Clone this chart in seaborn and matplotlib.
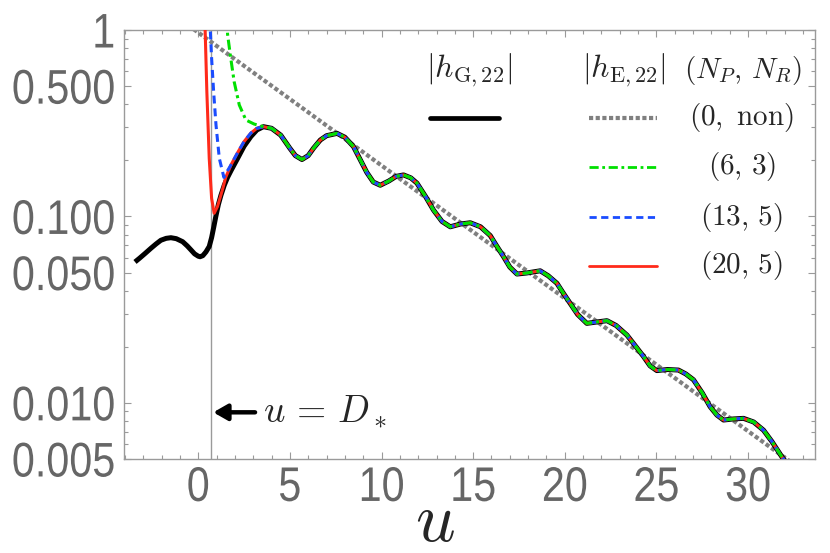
import matplotlib
matplotlib.use("Agg")
import matplotlib.pyplot as plt
import numpy as np
import pandas as pd
import seaborn as sns
from matplotlib.ticker import FixedLocator, FixedFormatter, MultipleLocator, LogLocator, NullFormatter
from matplotlib.patheffects import AbstractPathEffect
from matplotlib.transforms import Affine2D

# ---------------- data ----------------
# |h_G,22| (black), part before all curves coincide
u_g = [-3.45, -3.2, -2.9, -2.58, -2.3, -2.04, -1.75, -1.49, -1.2, -0.85, -0.6, -0.4, -0.2,
       0.0, 0.1, 0.25, 0.42, 0.6, 0.73, 0.85, 0.96, 1.1, 1.24, 1.42, 1.6, 1.8, 2.15, 2.5,
       2.87, 3.2]
h_g = [0.0570, 0.0597, 0.0633, 0.0675, 0.0712, 0.0745, 0.0763, 0.0769, 0.0760, 0.0732, 0.0695,
       0.0662, 0.0630, 0.0612, 0.0608, 0.0616, 0.0645, 0.0690, 0.0770, 0.0880, 0.1000, 0.1160,
       0.1300, 0.1470, 0.1620, 0.1770, 0.205, 0.238, 0.268, 0.291]

# common tail (all curves coincide for u >= 3.56)
u_tail = [3.56, 4.0, 4.5, 5.0, 5.3, 5.66, 6.0, 6.3, 6.66, 7.0, 7.57, 8.0, 8.47, 8.8, 9.2, 9.55,
          9.93, 10.4, 10.8, 11.2, 11.6, 11.93, 12.4, 12.84, 13.3, 13.75, 14.3, 14.84, 15.4,
          15.93, 16.3, 16.66, 17.0, 17.39, 17.9, 18.66, 19.1, 19.57, 19.9, 20.29, 20.7, 21.2,
          21.8, 22.3, 22.8, 23.39, 23.8, 24.3, 24.65, 25.02, 25.6, 26.2, 26.6, 27.02, 27.5,
          27.93, 28.3, 28.66, 29.2, 29.75, 30.3, 30.84, 31.3, 31.84, 32.0]
h_tail = [0.303, 0.297, 0.273, 0.232, 0.212, 0.202, 0.212, 0.233, 0.257, 0.271, 0.279, 0.266,
          0.237, 0.205, 0.172, 0.153, 0.147, 0.155, 0.164, 0.167, 0.161, 0.151, 0.128, 0.108,
          0.094, 0.088, 0.091, 0.0925, 0.088, 0.079, 0.069, 0.0608, 0.0535, 0.0491, 0.0497,
          0.0511, 0.048, 0.0438, 0.039, 0.0342, 0.0298, 0.0267, 0.0272, 0.0276, 0.026, 0.0231,
          0.0205, 0.0177, 0.0158, 0.0149, 0.0151, 0.0150, 0.0143, 0.0133, 0.0113, 0.00953,
          0.0086, 0.00809, 0.0082, 0.00826, 0.0079, 0.00714, 0.0062, 0.00514, 0.0049]

# |h_E,22| early parts
u_e_common = [1.5, 1.8, 2.15, 2.5, 2.87, 3.2]
h_e_common = [0.162, 0.190, 0.220, 0.252, 0.280, 0.297]

u_red = [0.36, 0.47, 0.60, 0.73, 0.87, 1.05, 1.33]
h_red = [1.15, 0.467, 0.205, 0.125, 0.104, 0.113, 0.140]

u_blue = [0.63, 0.73, 0.84, 0.97, 1.15, 1.4, 1.6]
h_blue = [1.15, 0.705, 0.467, 0.309, 0.205, 0.162, 0.176]

u_green = [1.56, 1.6, 1.75, 1.96, 2.24, 2.6, 3.05, 3.3]
h_green = [1.15, 0.95, 0.734, 0.528, 0.396, 0.329, 0.313, 0.308]

# (0, non): gray dotted
u_gray = [-0.25, 2.0, 6.0, 10.0, 14.0, 18.0, 22.0, 26.0, 30.0, 32.3]
h_gray = [1.01, 0.697, 0.362, 0.1876, 0.0974, 0.0505, 0.0262, 0.0136, 0.00705, 0.00484]

D_star = 0.7

x_ticks = [0, 5, 10, 15, 20, 25, 30]
y_ticks = [0.005, 0.01, 0.05, 0.1, 0.5, 1]
y_tick_labels = ["0.005", "0.010", "0.050", "0.100", "0.500", "1"]
legend_labels = [r"$(0,\ \mathrm{non})$", r"$(6,\,3)$", r"$(13,\,5)$", r"$(20,\,5)$"]

# ---------------- style ----------------
sns.set_theme(style="ticks")
plt.rcParams["font.family"] = ["Liberation Sans", "DejaVu Sans"]
plt.rcParams["mathtext.fontset"] = "cm"

FRAME = "#9a9a9a"
TICKLAB = "#666666"
C_GRAY = "#808080"
C_GREEN = "#00e000"
C_BLUE = "#1a4cff"
C_RED = "#ff2a1a"


class Condense(AbstractPathEffect):
    """Horizontally condense text glyphs around a pivot."""
    def __init__(self, sx=0.85, pivot="center"):
        super().__init__()
        self.sx = sx
        self.pivot = pivot

    def draw_path(self, renderer, gc, tpath, affine, rgbFace=None):
        ext = tpath.get_extents()
        if self.pivot == "right":
            p = ext.x1
        else:
            p = 0.5 * (ext.x0 + ext.x1)
        t = Affine2D().translate(-p, 0).scale(self.sx, 1).translate(p, 0) + affine
        renderer.draw_path(gc, tpath, t, rgbFace)


fig = plt.figure(figsize=(8.3, 5.53), dpi=100)
ax = fig.add_axes([124 / 830, 1 - 459 / 553, (815 - 124) / 830, (459 - 30) / 553])

df_g = pd.DataFrame({"u": u_g + u_tail, "h": h_g + h_tail})
df_gray = pd.DataFrame({"u": u_gray, "h": h_gray})
df_red = pd.DataFrame({"u": u_red + u_e_common + u_tail, "h": h_red + h_e_common + h_tail})
df_blue = pd.DataFrame({"u": u_blue + u_e_common[1:] + u_tail, "h": h_blue + h_e_common[1:] + h_tail})
df_green = pd.DataFrame({"u": u_green + u_tail, "h": h_green + h_tail})

ax.axvline(D_star, color=FRAME, lw=1.0, zorder=1)

sns.lineplot(data=df_gray, x="u", y="h", ax=ax, color=C_GRAY, lw=3.0,
             linestyle=(0, (1.0, 0.6)), estimator=None, sort=False, zorder=2)
sns.lineplot(data=df_g, x="u", y="h", ax=ax, color="black", lw=3.6,
             estimator=None, sort=False, zorder=3, solid_capstyle="butt")
sns.lineplot(data=df_red, x="u", y="h", ax=ax, color=C_RED, lw=2.2,
             estimator=None, sort=False, zorder=4)
sns.lineplot(data=df_blue, x="u", y="h", ax=ax, color=C_BLUE, lw=2.2,
             linestyle=(0, (2.6, 1.6)), estimator=None, sort=False, zorder=5)
sns.lineplot(data=df_green, x="u", y="h", ax=ax, color=C_GREEN, lw=2.2,
             linestyle=(0, (3.3, 1.3, 1.0, 1.3)), estimator=None, sort=False, zorder=6)

ax.set_yscale("log")
ax.set_xlim(-4.05, 33.65)
ax.set_ylim(0.005, 1.0)

ax.xaxis.set_major_locator(FixedLocator(x_ticks))
ax.xaxis.set_minor_locator(MultipleLocator(1))
ax.yaxis.set_major_locator(FixedLocator(y_ticks))
ax.yaxis.set_major_formatter(FixedFormatter(y_tick_labels))
ax.yaxis.set_minor_locator(LogLocator(base=10, subs=np.arange(2, 10)))
ax.yaxis.set_minor_formatter(NullFormatter())

for sp in ax.spines.values():
    sp.set_color(FRAME)
    sp.set_linewidth(1.0)

ax.tick_params(which="both", direction="in", top=True, right=True, color=FRAME,
               labelcolor=TICKLAB, labelsize=35, width=0.8)
ax.tick_params(which="major", length=5)
ax.tick_params(which="minor", length=3)
ax.tick_params(axis="x", pad=5)
ax.tick_params(axis="y", pad=6)

ax.set_ylabel("")
ax.set_xlabel(r"$u$", fontsize=50)
ax.xaxis.set_label_coords(0.45, -0.15)
ax.xaxis.label.set_va("center")

for lbl in ax.get_xticklabels():
    lbl.set_path_effects([Condense(0.85, "center")])
for lbl in ax.get_yticklabels():
    lbl.set_path_effects([Condense(0.85, "right")])

# annotation u = D_*
ax.annotate("", xy=(D_star + 0.12, 0.0089), xytext=(3.1, 0.0089),
            arrowprops=dict(arrowstyle="-|>,head_length=0.7,head_width=0.4",
                            lw=3.2, color="black", shrinkA=0, shrinkB=0))
ax.text(3.55, 0.0089, r"$u\,=\,D_*$", fontsize=27, va="center", ha="left")

# ---------------- legend (manual) ----------------
T = ax.transAxes
ax.text(0.50, 0.905, r"$|h_{\mathrm{G},22}|$", transform=T, fontsize=23, ha="center", va="center")
ax.text(0.724, 0.905, r"$|h_{\mathrm{E},22}|$", transform=T, fontsize=23, ha="center", va="center")
ax.text(0.896, 0.905, r"$(N_P,\,N_R)$", transform=T, fontsize=21, ha="center", va="center")

ax.plot([0.443, 0.543], [0.795, 0.795], transform=T, color="black", lw=3.4, clip_on=False)
samples = [
    dict(color=C_GRAY, lw=3.0, linestyle=(0, (1.0, 0.6)), y=0.795),
    dict(color=C_GREEN, lw=2.0, linestyle=(0, (3.3, 1.3, 1.0, 1.3)), y=0.681),
    dict(color=C_BLUE, lw=2.0, linestyle=(0, (2.6, 1.6)), y=0.564),
    dict(color=C_RED, lw=2.0, linestyle="-", y=0.450),
]
for s, lab in zip(samples, legend_labels):
    ax.plot([0.673, 0.771], [s["y"], s["y"]], transform=T, color=s["color"], lw=s["lw"],
            linestyle=s["linestyle"], clip_on=False)
    ax.text(0.894, s["y"], lab, transform=T, fontsize=21, ha="center", va="center")

fig.savefig("out.png", dpi=100)
